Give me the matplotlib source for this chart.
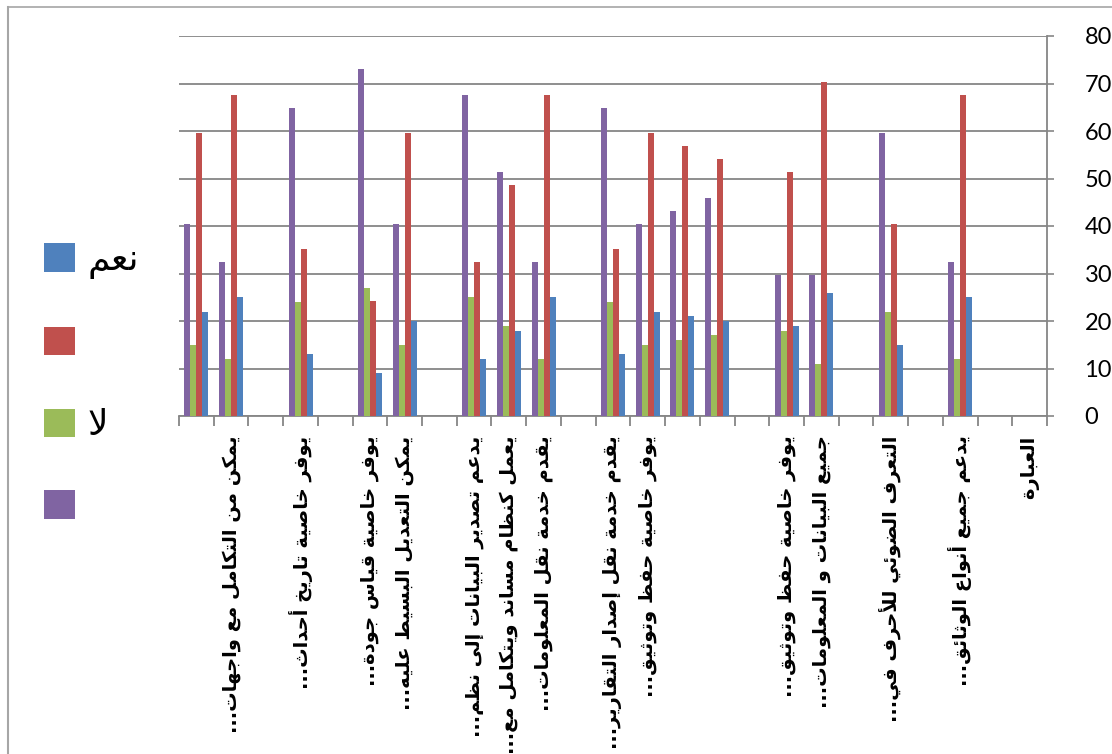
import numpy as np
import matplotlib
matplotlib.use('Agg')
import matplotlib.pyplot as plt
from matplotlib.patches import Patch
from matplotlib.lines import Line2D

# categories in sheet order (first one sits on the right, next to the value axis)
labels = ['العبارة', '', 'يدعم جميع أنواع الوثائق...', '', 'التعرف الضوئي للأحرف في...', '',
          'جميع البيانات و المعلومات...', 'يوفر خاصية حفظ وتوثيق...', '', '', '',
          'يوفر خاصية حفظ وتوثيق...', 'يقدم خدمة نقل إصدار التقارير...', '',
          'يقدم خدمة نقل المعلومات...', 'يعمل كنظام مساند ويتكامل مع...',
          'يدعم تصدير البيانات إلى نظم...', '', 'يمكن التعديل البسيط عليه...',
          'يوفر خاصية قياس جودة...', '', 'يوفر خاصية تاريخ أحداث...', '',
          'يمكن من التكامل مع واجهات...', '']

naam = [0, 0, 25, 0, 15, 0, 26, 19, 0, 20, 21, 22, 13, 0, 25, 18, 12, 0, 20, 9, 0, 13, 0, 25, 22]
naam_pct = [0, 0, 67.6, 0, 40.5, 0, 70.3, 51.4, 0, 54.1, 56.8, 59.5, 35.1, 0, 67.6, 48.6, 32.4, 0,
            59.5, 24.3, 0, 35.1, 0, 67.6, 59.5]
laa = [0, 0, 12, 0, 22, 0, 11, 18, 0, 17, 16, 15, 24, 0, 12, 19, 25, 0, 15, 27, 0, 24, 0, 12, 15]
laa_pct = [0, 0, 32.4, 0, 59.5, 0, 29.7, 29.7, 0, 45.9, 43.2, 40.5, 64.9, 0, 32.4, 51.4, 67.6, 0,
           40.5, 73.0, 0, 64.9, 0, 32.4, 40.5]

series_names = ['نعم', '', 'لا', '']
colors = ['#4F81BD', '#C0504D', '#9BBB59', '#8064A2']

# --- tiny arabic shaper (matplotlib has no complex text layout) ---
BASE = {'ء': 0xFE80, 'آ': 0xFE81, 'أ': 0xFE83, 'ؤ': 0xFE85, 'إ': 0xFE87, 'ئ': 0xFE89, 'ا': 0xFE8D,
        'ب': 0xFE8F, 'ة': 0xFE93, 'ت': 0xFE95, 'ث': 0xFE99, 'ج': 0xFE9D, 'ح': 0xFEA1, 'خ': 0xFEA5,
        'د': 0xFEA9, 'ذ': 0xFEAB, 'ر': 0xFEAD, 'ز': 0xFEAF, 'س': 0xFEB1, 'ش': 0xFEB5, 'ص': 0xFEB9,
        'ض': 0xFEBD, 'ط': 0xFEC1, 'ظ': 0xFEC5, 'ع': 0xFEC9, 'غ': 0xFECD, 'ف': 0xFED1, 'ق': 0xFED5,
        'ك': 0xFED9, 'ل': 0xFEDD, 'م': 0xFEE1, 'ن': 0xFEE5, 'ه': 0xFEE9, 'و': 0xFEED, 'ى': 0xFEEF,
        'ي': 0xFEF1}
DUAL = set('ئبتثجحخسشصضطظعغفقكلمنهي')
LAMALEF = {'آ': 0xFEF5, 'أ': 0xFEF7, 'إ': 0xFEF9, 'ا': 0xFEFB}


def shape(text):
    res = []
    prev = False
    i = 0
    while i < len(text):
        c = text[i]
        nxt = text[i + 1] if i + 1 < len(text) else ''
        if c == 'ل' and nxt in LAMALEF:
            res.append(chr(LAMALEF[nxt] + (1 if prev else 0)))
            prev = False
            i += 2
            continue
        if c not in BASE:
            res.append(c)
            prev = False
            i += 1
            continue
        b = BASE[c]
        to_next = c in DUAL and nxt in BASE
        if c == 'ء':
            f = b
        elif prev and to_next:
            f = b + 3
        elif prev:
            f = b + 1
        elif to_next:
            f = b + 2
        else:
            f = b
        res.append(chr(f))
        prev = to_next
        i += 1
    return ''.join(reversed(res))


plt.rcParams['font.family'] = ['Lato', 'DejaVu Sans']
grey = '#868686'

fig = plt.figure(figsize=(11.12, 7.54), dpi=100)
ax = fig.add_axes([179 / 1112, 1 - 416 / 754, 868 / 1112, 380 / 754])

x = np.arange(len(labels))
w = 0.173
for k, (vals, col) in enumerate(zip([naam, naam_pct, laa, laa_pct], colors)):
    ax.bar(x + (k - 1.5) * w, vals, width=w, color=col, linewidth=0, zorder=3)

ax.set_xlim(len(labels) - 0.5, -0.5)
ax.set_ylim(0, 80)
ax.set_yticks(range(0, 81, 10))
ax.yaxis.tick_right()
ax.tick_params(axis='y', which='major', length=5, width=1.2, color=grey, pad=22, labelsize=17)
ax.grid(axis='y', color=grey, linewidth=1.3, zorder=0)

ax.set_xticks(x)
ax.set_xticklabels([shape(t) for t in labels], rotation=90, fontsize=14, fontweight='bold',
                   family='DejaVu Sans')
ax.set_xticks(np.arange(-0.5, len(labels)), minor=True)
ax.tick_params(axis='x', which='major', length=0, pad=14)
ax.tick_params(axis='x', which='minor', length=7, width=1.3, color=grey)

for s in ['top', 'left']:
    ax.spines[s].set_visible(False)
for s in ['right', 'bottom']:
    ax.spines[s].set_color(grey)
    ax.spines[s].set_linewidth(1.3)

handles = [Patch(facecolor=c, edgecolor='none') for c in colors]
fig.legend(handles, [shape(t) for t in series_names], loc='upper left',
           bbox_to_anchor=(44 / 1112, 1 - 243 / 754), frameon=False,
           prop={'family': 'DejaVu Sans', 'size': 26}, handlelength=0.85, handleheight=0.82,
           handletextpad=0.36, labelspacing=1.32, borderpad=0, borderaxespad=0)

# chart area frame (only left and top edges are inside the picture)
fig.add_artist(Line2D([8 / 1112, 8 / 1112], [0, 1 - 7 / 754], color='#a6a6a6', lw=1.5))
fig.add_artist(Line2D([8 / 1112, 1], [1 - 7 / 754, 1 - 7 / 754], color='#a6a6a6', lw=1.2))

fig.savefig('out.png', dpi=100)
